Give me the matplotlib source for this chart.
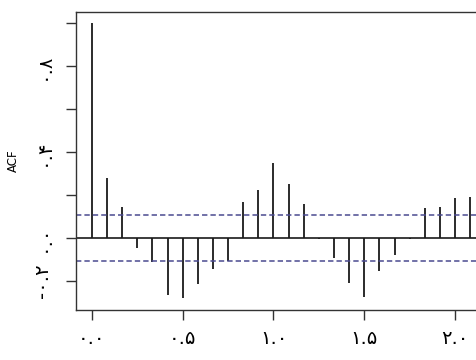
import numpy as np
import matplotlib.pyplot as plt

# monthly series, acf lags in years (frequency 12)
lag_months = [0, 1, 2, 3, 4, 5, 6, 7, 8, 9, 10, 11, 12,
              13, 14, 15, 16, 17, 18, 19, 20, 21, 22, 23, 24, 25]
freq = 12
acf_vals = [1.0, 0.28, 0.146, -0.048, -0.11, -0.265, -0.278, -0.215, -0.143,
            -0.105, 0.169, 0.225, 0.347, 0.253, 0.157, -0.005, -0.095, -0.208,
            -0.273, -0.153, -0.079, -0.006, 0.138, 0.146, 0.186, 0.191]
conf_bound = 0.106

x_ticks = [0.0, 0.5, 1.0, 1.5, 2.0]
x_ticklabels = ['۰.۰', '۰.۵', '۱.۰', '۱.۵', '۲.۰']
y_ticks = [-0.2, 0.0, 0.2, 0.4, 0.6, 0.8, 1.0]
y_ticklabels = ['-۰.۲', '۰.۰', '', '۰.۴', '', '۰.۸', '']

lags = np.array(lag_months) / freq

fig = plt.figure(figsize=(4.76, 3.6), dpi=100)
ax = fig.add_axes([76/476, 50/360, (520-76)/476, 298/360])

ax.vlines(lags, 0, acf_vals, color='#1a1a1a', lw=1.3)
ax.axhline(0, color='#1a1a1a', lw=1.2)
for b in (conf_bound, -conf_bound):
    ax.axhline(b, color='#4a4a90', lw=1.1, ls=(0, (3.5, 2)))

ax.set_xlim(-0.088, 2.358)
ax.set_ylim(-0.335, 1.051)

ax.set_xticks(x_ticks)
ax.set_xticklabels(x_ticklabels, fontsize=14, family=['DejaVu Sans'])
ax.set_yticks(y_ticks)
ax.set_yticklabels(y_ticklabels, fontsize=14, rotation=90, va='center',
                   family=['DejaVu Sans'])
ax.tick_params(axis='x', length=7, width=1, pad=7, color='#333333')
ax.tick_params(axis='y', length=7, width=1, pad=10, color='#333333')

for s in ax.spines.values():
    s.set_color('#333333')
    s.set_linewidth(1.0)
ax.spines['right'].set_visible(False)

fig.text(13/476, 1 - 161/360, 'ACF', rotation=90, ha='center', va='center',
         fontsize=8.5)

fig.savefig('out.png', dpi=100)
